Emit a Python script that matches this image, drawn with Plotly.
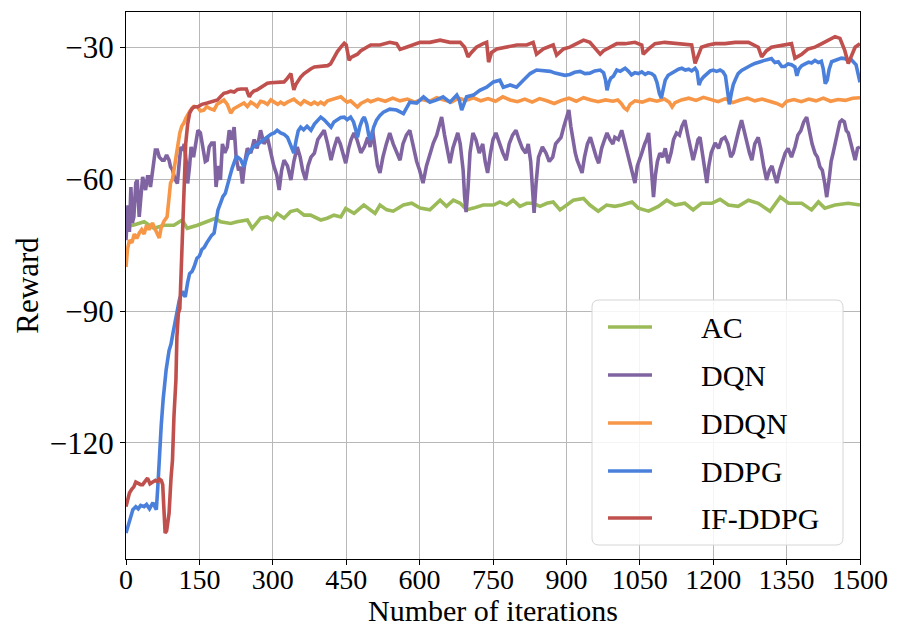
import plotly.graph_objects as go

# ---------------- data ----------------
ac_x = [0, 16, 37, 57, 78, 98, 115, 125, 146, 166, 183, 193, 214, 227, 248, 258, 275, 289, 299, 309, 323, 336,
        350, 364, 377, 398, 411, 425, 439, 449, 466, 486, 499, 509, 519, 533, 546, 567, 584, 601, 621, 642, 655,
        669, 683, 696, 710, 730, 751, 764, 778, 791, 805, 819, 832, 846, 860, 873, 887, 900, 914, 935, 948, 965,
        982, 999, 1013, 1034, 1047, 1068, 1088, 1105, 1122, 1142, 1159, 1176, 1197, 1214, 1231, 1251, 1272, 1292,
        1316, 1337, 1354, 1381, 1401, 1415, 1428, 1449, 1476, 1500]
ac_y = [-70.8, -70.45, -69.7, -71.2, -70.5, -70.5, -69.3, -71.2, -70.5, -69.7, -68.9, -69.7, -70.1, -69.7, -69.3,
        -71.2, -68.9, -68.6, -69.3, -67.8, -68.9, -67.4, -67.0, -68.2, -68.2, -69.3, -68.9, -68.2, -68.6, -66.7,
        -67.8, -65.9, -67.0, -67.8, -65.9, -67.0, -67.3, -65.9, -65.5, -66.6, -67.0, -64.8, -66.2, -64.8, -65.5,
        -67.0, -66.6, -65.9, -65.9, -65.2, -65.9, -64.8, -66.2, -65.5, -65.5, -66.2, -65.5, -65.2, -67.0, -65.9,
        -64.8, -64.4, -65.9, -67.3, -65.9, -66.2, -65.9, -65.2, -66.6, -67.3, -66.2, -64.8, -65.9, -65.5, -67.0,
        -65.5, -65.5, -64.6, -65.9, -66.2, -64.8, -65.5, -67.3, -64.1, -65.5, -65.5, -67.0, -65.2, -66.6, -65.9,
        -65.5, -65.9]

dqn_x = [0, 4, 7, 10, 13, 16, 20, 23, 27, 31, 34, 37, 40, 44, 47, 50, 55, 60, 64, 68, 74, 78, 83, 88, 91, 95, 100,
         105, 109, 112, 116, 119, 123, 126, 130, 133, 138, 143, 147, 152, 157, 162, 166, 170, 175, 180, 184, 189,
         193, 197, 202, 207, 211, 216, 221, 225, 230, 234, 238, 243, 248, 255, 262, 268, 275, 282, 289, 296, 302,
         308, 313, 318, 323, 330, 337, 343, 350, 356, 361, 367, 372, 378, 385, 392, 398, 405, 412, 419, 425, 432,
         438, 443, 449, 455, 460, 466, 472, 480, 487, 494, 499, 504, 510, 514, 519, 525, 532, 539, 546, 553, 560,
         566, 573, 580, 587, 594, 600, 607, 614, 621, 628, 635, 640, 645, 651, 657, 662, 668, 673, 678, 683, 689,
         692, 695, 699, 703, 709, 715, 722, 729, 734, 739, 745, 750, 756, 763, 770, 777, 783, 790, 797, 803, 810,
         817, 822, 827, 831, 834, 838, 843, 851, 858, 865, 872, 878, 884, 889, 895, 900, 905, 909, 914, 918, 922,
         927, 932, 937, 943, 949, 955, 961, 966, 972, 978, 983, 989, 995, 999, 1006, 1013, 1020, 1027, 1033, 1037,
         1040, 1045, 1050, 1054, 1060, 1064, 1068, 1072, 1075, 1078, 1082, 1086, 1091, 1097, 1102, 1108, 1114,
         1119, 1125, 1131, 1136, 1142, 1148, 1153, 1159, 1165, 1169, 1173, 1178, 1183, 1187, 1191, 1196, 1204,
         1211, 1217, 1224, 1230, 1236, 1241, 1247, 1252, 1258, 1263, 1268, 1274, 1279, 1285, 1292, 1297, 1303,
         1309, 1315, 1320, 1325, 1330, 1336, 1341, 1347, 1353, 1360, 1367, 1373, 1379, 1385, 1391, 1397, 1402,
         1408, 1413, 1418, 1423, 1428, 1432, 1437, 1441, 1445, 1450, 1455, 1459, 1463, 1468, 1472, 1476, 1481,
         1486, 1490, 1495, 1500]
dqn_y = [-73.9, -66.0, -72.0, -61.8, -70.0, -68.6, -60.9, -60.2, -68.6, -62.0, -59.5, -61.0, -62.5, -59.5, -59.5,
         -61.8, -57.0, -53.4, -53.4, -55.0, -55.7, -55.7, -54.5, -55.7, -57.2, -57.9, -60.0, -61.0, -56.0, -52.7,
         -53.5, -52.0, -56.0, -61.0, -57.0, -52.7, -55.0, -51.0, -48.9, -49.5, -53.4, -56.0, -55.7, -52.7, -51.8,
         -51.8, -61.8, -57.0, -60.2, -52.0, -54.0, -52.7, -48.9, -51.0, -48.2, -55.0, -58.0, -57.2, -61.0, -56.0,
         -53.0, -54.1, -51.0, -53.0, -48.9, -52.0, -50.5, -54.1, -57.0, -59.0, -62.5, -58.0, -55.7, -57.0, -60.2,
         -56.0, -52.7, -55.0, -58.0, -60.2, -57.0, -55.0, -54.1, -51.0, -50.0, -48.9, -52.0, -55.7, -53.0, -50.5,
         -52.0, -54.0, -56.4, -53.0, -51.0, -49.5, -51.0, -54.0, -52.7, -50.5, -52.7, -48.9, -54.0, -57.0, -58.6,
         -55.0, -52.0, -49.5, -52.0, -54.0, -55.7, -52.0, -50.0, -48.9, -53.0, -56.0, -58.0, -60.9, -57.0, -54.0,
         -51.8, -50.0, -48.0, -45.9, -50.0, -53.0, -56.4, -53.0, -51.0, -49.5, -52.0, -58.0, -64.0, -67.5, -62.0,
         -54.0, -49.5, -51.0, -54.1, -52.0, -56.0, -58.6, -54.0, -51.0, -49.5, -52.0, -54.0, -55.7, -52.0, -50.0,
         -48.9, -51.0, -53.0, -54.1, -52.0, -56.0, -63.0, -67.7, -61.0, -55.0, -52.7, -54.0, -56.0, -55.0, -52.0,
         -51.0, -50.5, -48.0, -46.0, -44.3, -48.0, -52.0, -54.0, -55.7, -57.0, -58.6, -55.0, -52.0, -50.5, -53.0,
         -55.0, -56.4, -53.0, -51.0, -49.5, -51.0, -52.0, -50.5, -51.0, -48.9, -52.0, -55.0, -57.0, -59.0, -60.9,
         -57.0, -55.0, -54.1, -52.0, -51.0, -49.5, -55.0, -60.0, -64.1, -59.0, -56.0, -54.1, -55.0, -53.0, -56.4,
         -54.0, -51.0, -49.5, -50.0, -48.0, -46.6, -50.0, -53.0, -55.7, -53.0, -51.0, -50.5, -54.0, -58.0, -60.9,
         -57.0, -54.0, -51.8, -53.0, -51.0, -50.5, -52.0, -55.0, -54.1, -51.0, -49.0, -46.6, -49.0, -52.0, -54.0,
         -55.7, -52.0, -50.5, -53.0, -57.0, -60.2, -58.0, -57.0, -59.0, -60.9, -58.0, -56.0, -54.1, -53.0, -55.0,
         -52.7, -50.0, -49.0, -47.0, -45.9, -49.0, -52.0, -54.1, -55.0, -57.2, -58.0, -61.0, -64.1, -60.0, -56.0,
         -54.1, -51.0, -49.0, -47.0, -46.6, -47.0, -49.0, -49.5, -52.0, -54.0, -55.7, -53.0, -52.7]

ddqn_x = [0, 3, 7, 12, 17, 22, 27, 32, 37, 42, 47, 54, 58, 63, 68, 72, 78, 84, 88, 91, 95, 98, 101, 105, 110, 114,
          118, 123, 128, 132, 138, 146, 152, 159, 165, 172, 180, 186, 193, 200, 207, 214, 220, 227, 234, 241, 248,
          255, 262, 268, 275, 282, 289, 296, 303, 310, 316, 323, 330, 337, 343, 350, 357, 364, 371, 378, 385, 392,
          398, 405, 412, 419, 425, 432, 439, 446, 452, 459, 466, 473, 480, 487, 494, 500, 515, 530, 545, 560, 575,
          590, 605, 620, 635, 650, 665, 680, 695, 710, 725, 740, 755, 770, 785, 800, 815, 830, 845, 860, 875, 890,
          905, 920, 935, 950, 965, 980, 995, 1005, 1012, 1018, 1024, 1030, 1040, 1055, 1070, 1085, 1100, 1110,
          1116, 1122, 1135, 1150, 1165, 1180, 1195, 1210, 1225, 1240, 1255, 1270, 1285, 1300, 1315, 1330, 1341,
          1350, 1365, 1380, 1395, 1410, 1425, 1440, 1455, 1470, 1485, 1500]
ddqn_y = [-80.0, -76.0, -73.9, -74.5, -72.5, -73.5, -72.3, -71.5, -72.5, -70.5, -71.5, -70.0, -71.0, -72.0, -73.4,
          -71.0, -69.5, -68.6, -65.0, -60.9, -60.0, -58.0, -55.0, -52.7, -49.5, -48.0, -47.3, -46.0, -45.0, -44.3,
          -43.5, -43.6, -44.5, -44.3, -43.5, -44.0, -44.3, -43.0, -42.5, -42.0, -43.0, -45.0, -44.0, -43.5, -43.0,
          -42.7, -43.5, -42.5, -43.0, -43.5, -42.3, -42.5, -43.0, -42.0, -42.5, -43.0, -42.5, -43.0, -42.5, -42.0,
          -41.8, -42.5, -43.0, -42.2, -42.5, -43.0, -42.5, -43.0, -42.5, -43.0, -42.2, -42.0, -41.8, -41.5, -41.3,
          -42.0, -42.5, -42.2, -43.0, -43.6, -42.8, -42.4, -42.0, -42.4, -41.8, -42.3, -41.6, -42.2, -41.8, -42.5,
          -41.9, -42.3, -41.5, -42.0, -42.5, -41.6, -42.1, -41.5, -42.2, -41.7, -42.3, -41.3, -42.0, -42.4, -41.8,
          -42.5, -41.7, -42.2, -42.8, -42.1, -41.6, -42.3, -41.5, -42.0, -42.4, -42.0, -42.3, -42.0, -42.8, -43.8,
          -44.3, -43.0, -42.2, -42.5, -41.9, -42.3, -41.8, -42.5, -43.6, -42.6, -42.0, -41.6, -42.1, -41.4, -42.0,
          -42.4, -41.7, -42.6, -42.0, -41.6, -42.2, -41.8, -42.3, -42.8, -43.4, -42.3, -41.9, -42.4, -41.8, -42.2,
          -41.6, -42.3, -41.9, -42.1, -41.6, -41.5]

ddpg_x = [0, 5, 10, 14, 20, 25, 30, 37, 42, 48, 55, 60, 62, 65, 68, 72, 76, 82, 88, 92, 96, 102, 109, 115, 121, 126,
          130, 135, 139, 145, 150, 155, 160, 165, 170, 175, 180, 184, 188, 193, 198, 203, 207, 212, 217, 221, 225,
          228, 234, 241, 248, 255, 262, 270, 276, 282, 290, 296, 303, 309, 316, 323, 330, 336, 343, 348, 352, 357,
          363, 370, 378, 385, 392, 398, 405, 412, 419, 425, 432, 439, 446, 452, 459, 465, 470, 473, 478, 483, 487,
          492, 496, 500, 506, 512, 519, 526, 539, 553, 567, 580, 594, 608, 621, 635, 648, 662, 676, 681, 686, 691,
          696, 710, 723, 737, 751, 764, 771, 785, 798, 812, 826, 839, 853, 867, 877, 887, 897, 907, 917, 928, 938,
          948, 958, 969, 976, 980, 983, 987, 991, 996, 1003, 1010, 1020, 1027, 1033, 1040, 1047, 1054, 1061, 1067,
          1074, 1080, 1085, 1090, 1094, 1098, 1102, 1108, 1115, 1122, 1129, 1136, 1143, 1150, 1156, 1163, 1167,
          1171, 1175, 1180, 1187, 1194, 1200, 1207, 1214, 1220, 1225, 1229, 1233, 1237, 1241, 1246, 1251, 1258,
          1265, 1272, 1279, 1285, 1292, 1299, 1305, 1312, 1319, 1326, 1333, 1340, 1346, 1353, 1360, 1367, 1371,
          1375, 1381, 1388, 1395, 1401, 1408, 1415, 1421, 1425, 1429, 1433, 1437, 1442, 1449, 1456, 1462, 1469,
          1476, 1482, 1488, 1492, 1496, 1500]
ddpg_y = [-140.5, -138.5, -137.0, -135.2, -134.5, -135.0, -134.2, -134.5, -134.0, -135.0, -133.6, -134.5, -135.2,
          -130.0, -122.3, -116.0, -110.0, -103.4, -99.0, -97.5, -95.0, -91.0, -87.5, -85.5, -86.8, -83.5, -81.5,
          -81.0, -80.0, -78.0, -77.5, -76.0, -75.5, -74.5, -73.5, -72.8, -72.3, -70.0, -67.0, -65.5, -64.0, -63.2,
          -61.8, -59.5, -57.5, -56.4, -55.0, -55.0, -55.5, -57.2, -54.5, -53.4, -52.5, -52.0, -51.5, -51.1, -50.5,
          -49.8, -49.5, -48.9, -49.5, -49.8, -50.5, -52.0, -54.1, -51.0, -49.0, -48.2, -48.8, -48.0, -48.9, -47.5,
          -46.5, -45.9, -46.5, -47.5, -48.2, -47.0, -46.6, -46.0, -45.9, -46.5, -45.9, -47.0, -49.0, -50.5, -48.0,
          -46.5, -45.9, -47.5, -50.0, -51.1, -48.2, -46.6, -45.5, -44.8, -44.1, -44.3, -45.1, -42.5, -42.7, -41.3,
          -42.5, -42.0, -41.3, -42.5, -40.9, -42.0, -44.3, -42.8, -41.3, -40.9, -39.8, -39.1, -37.9, -37.5, -39.1,
          -38.6, -39.1, -37.5, -36.0, -35.2, -35.4, -35.5, -35.9, -36.2, -36.4, -36.2, -35.7, -35.5, -36.0, -35.9,
          -35.4, -35.2, -35.8, -37.5, -39.8, -38.0, -37.0, -36.6, -35.2, -35.5, -34.8, -35.5, -36.3, -35.8, -36.0,
          -35.6, -36.2, -35.8, -36.0, -36.5, -38.0, -40.5, -41.6, -39.5, -37.5, -36.4, -35.9, -35.3, -35.0, -34.8,
          -35.2, -35.0, -35.4, -34.8, -35.5, -38.6, -37.5, -36.8, -36.0, -35.4, -35.2, -35.5, -35.2, -35.6, -36.5,
          -40.0, -43.0, -40.5, -38.5, -37.2, -36.0, -35.3, -34.8, -34.5, -34.0, -33.7, -33.4, -33.2, -33.0, -32.8,
          -32.6, -33.5, -33.3, -34.4, -34.4, -33.8, -34.0, -34.5, -36.5, -35.0, -34.2, -33.8, -33.4, -33.6, -33.0,
          -33.5, -33.2, -35.0, -38.3, -37.5, -35.0, -33.3, -33.0, -32.8, -32.5, -32.6, -33.0, -32.8, -33.4, -34.0,
          -36.0, -38.0]

ifddpg_x = [0, 4, 7, 12, 16, 20, 25, 30, 34, 40, 44, 49, 54, 60, 64, 68, 72, 75, 77, 80, 83, 86, 88, 92, 95, 98,
            102, 104, 107, 110, 113, 116, 119, 122, 126, 130, 135, 140, 146, 155, 166, 176, 187, 193, 200, 207,
            214, 221, 228, 235, 241, 246, 249, 252, 256, 261, 268, 275, 282, 289, 296, 303, 310, 316, 323, 328,
            333, 337, 340, 343, 347, 352, 357, 364, 371, 378, 385, 392, 398, 405, 412, 418, 425, 432, 439, 446,
            450, 453, 456, 460, 466, 473, 480, 487, 494, 500, 519, 539, 553, 560, 573, 587, 601, 621, 642, 662,
            683, 692, 699, 706, 716, 730, 737, 741, 747, 758, 778, 799, 819, 832, 839, 853, 873, 880, 894, 907,
            921, 935, 948, 969, 976, 989, 1003, 1020, 1040, 1054, 1057, 1068, 1081, 1101, 1122, 1136, 1156, 1163,
            1170, 1176, 1190, 1204, 1224, 1245, 1272, 1292, 1299, 1309, 1319, 1340, 1360, 1367, 1381, 1394, 1408,
            1422, 1435, 1449, 1459, 1469, 1476, 1483, 1490, 1500]
ifddpg_y = [-134.5, -132.5, -131.4, -130.5, -130.0, -128.9, -129.2, -129.5, -129.5, -128.5, -128.0, -129.3, -129.0,
            -128.5, -128.8, -128.2, -128.5, -129.5, -134.0, -140.5, -140.0, -137.5, -136.0, -128.0, -123.9, -114.0,
            -105.7, -96.0, -90.5, -89.5, -80.0, -70.0, -60.0, -52.0, -47.5, -45.0, -44.0, -43.5, -43.6, -43.0,
            -42.7, -42.4, -42.0, -41.3, -40.5, -40.3, -40.0, -40.2, -39.6, -39.5, -39.4, -39.5, -40.5, -41.3,
            -40.5, -40.0, -39.7, -39.2, -38.6, -38.2, -38.1, -38.0, -38.0, -37.8, -37.9, -37.3, -36.5, -36.0,
            -38.0, -39.7, -38.5, -37.5, -36.8, -36.0, -35.4, -34.9, -34.5, -34.4, -34.3, -34.2, -34.2, -33.8,
            -32.2, -31.0, -30.0, -29.1, -29.5, -31.5, -33.0, -32.3, -32.0, -31.6, -30.8, -30.3, -29.8, -29.5,
            -29.5, -28.9, -29.2, -30.5, -30.0, -29.5, -28.9, -28.9, -28.4, -28.9, -28.9, -30.0, -32.2, -31.2,
            -30.0, -29.2, -28.9, -33.4, -31.2, -30.4, -30.0, -29.5, -29.5, -28.9, -31.6, -30.4, -29.5, -31.8,
            -30.4, -30.0, -29.2, -28.4, -28.9, -31.6, -30.8, -30.0, -29.2, -29.2, -28.9, -29.5, -31.6, -30.4,
            -29.2, -28.9, -29.2, -29.2, -29.5, -33.7, -31.6, -30.0, -29.5, -29.2, -29.2, -28.9, -28.9, -30.0,
            -32.2, -30.8, -30.0, -29.5, -29.2, -32.5, -31.6, -30.4, -30.0, -29.2, -28.4, -27.6, -28.0, -30.8,
            -33.7, -31.6, -30.0, -29.2]

series_names = ["AC", "DQN", "DDQN", "DDPG", "IF-DDPG"]
series_x = [ac_x, dqn_x, ddqn_x, ddpg_x, ifddpg_x]
series_y = [ac_y, dqn_y, ddqn_y, ddpg_y, ifddpg_y]
series_colors = ["#9BBB59", "#8064A2", "#F79646", "#4A80DC", "#C0504D"]

x_ticks = [0, 150, 300, 450, 600, 750, 900, 1050, 1200, 1350, 1500]
y_ticks = [-30, -60, -90, -120]

FONT = "Liberation Serif, Times New Roman, serif"
W, H = 898, 627
ML, MR, MT, MB = 126, 38, 12, 68
PW, PH = W - ML - MR, H - MT - MB


def px_x(p):
    return (p - ML) / PW


def px_y(p):
    return 1 - (p - MT) / PH


fig = go.Figure()
for name, xs, ys, col in zip(series_names, series_x, series_y, series_colors):
    fig.add_trace(go.Scatter(x=xs, y=ys, mode="lines", name=name, showlegend=False,
                             line=dict(color=col, width=3.6)))

# ---- legend box drawn like the reference (rounded frame, long gap before labels) ----
bx0, bx1, by0, by1, r = 592, 843, 300, 545, 7
rx, ry = r / PW, r / PH
X0, X1, Y0, Y1 = px_x(bx0), px_x(bx1), px_y(by1), px_y(by0)
path = (f"M {X0 + rx} {Y0} L {X1 - rx} {Y0} Q {X1} {Y0} {X1} {Y0 + ry} "
        f"L {X1} {Y1 - ry} Q {X1} {Y1} {X1 - rx} {Y1} L {X0 + rx} {Y1} "
        f"Q {X0} {Y1} {X0} {Y1 - ry} L {X0} {Y0 + ry} Q {X0} {Y0} {X0 + rx} {Y0} Z")
fig.add_shape(type="path", path=path, xref="paper", yref="paper",
              line=dict(color="#d6d6d6", width=1), fillcolor="rgba(255,255,255,0.85)", layer="above")

entry_y = [327, 375, 423, 471, 518]
for name, col, ey in zip(series_names, series_colors, entry_y):
    fig.add_shape(type="line", xref="paper", yref="paper", x0=px_x(608), x1=px_x(652),
                  y0=px_y(ey), y1=px_y(ey), line=dict(color=col, width=3.6), layer="above")
    fig.add_annotation(x=px_x(699), y=px_y(ey), xref="paper", yref="paper", text=name,
                       showarrow=False, xanchor="left", yanchor="middle",
                       font=dict(family=FONT, size=30, color="black"))

axis_common = dict(showline=True, linecolor="black", linewidth=1.2, mirror=True,
                   ticks="outside", ticklen=5, tickcolor="black",
                   showgrid=True, gridcolor="#b8b8b8", gridwidth=1, zeroline=False, automargin=False)

fig.update_layout(
    width=W, height=H,
    margin=dict(l=ML, r=MR, t=MT, b=MB),
    paper_bgcolor="white", plot_bgcolor="white",
    font=dict(family=FONT, color="black"),
    showlegend=False,
)
fig.update_xaxes(range=[0, 1500], tickvals=x_ticks, ticklabelstandoff=-10,
                 tickfont=dict(family=FONT, size=28, color="black"),
                 title=dict(text="Number of iterations", font=dict(family=FONT, size=30), standoff=2),
                 **axis_common)
fig.update_yaxes(range=[-146.4, -22], tickvals=y_ticks,
                 tickfont=dict(family=FONT, size=31, color="black"),
                 title=dict(text="Reward", font=dict(family=FONT, size=31), standoff=1),
                 **axis_common)

fig.write_html("out.html", post_script="document.body.style.margin='0';",
               config={"displayModeBar": False})
